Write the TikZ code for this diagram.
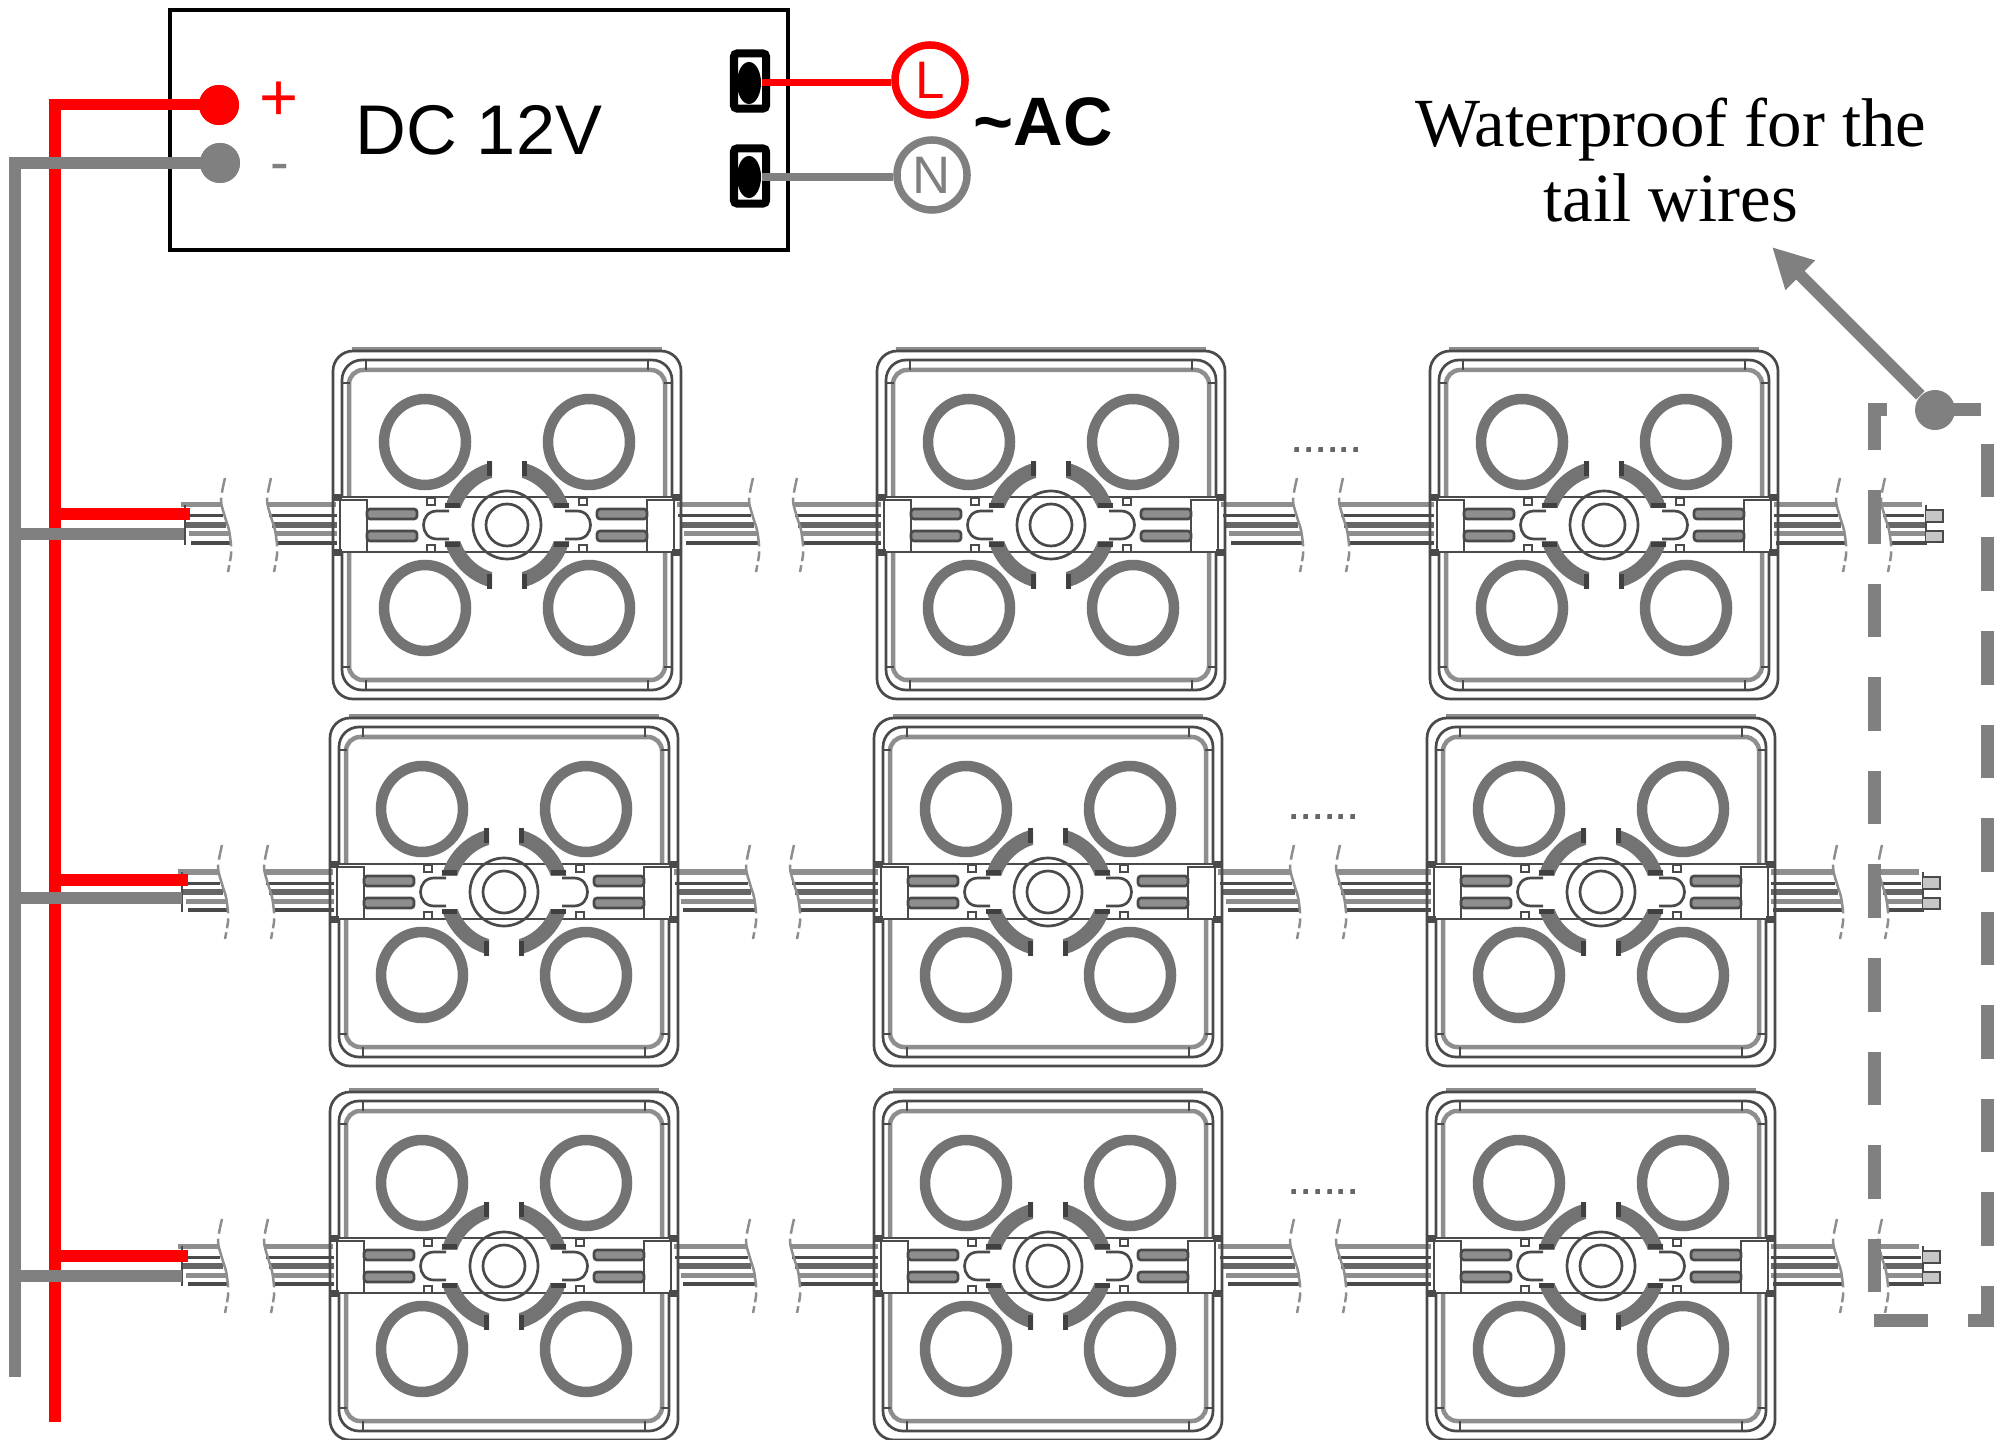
\documentclass[tikz,border=0pt]{standalone}
\usepackage{fontspec}
\setmainfont{Liberation Serif}
\newfontfamily\arialfont{Liberation Sans}
\usetikzlibrary{arrows.meta, shapes.geometric, positioning, calc}

\definecolor{wiregray}{HTML}{808080}
\definecolor{leddark}{HTML}{4A4A4A}
\definecolor{ledmid}{HTML}{666666}
\definecolor{ledlight}{HTML}{8E8E8E}
\definecolor{wirered}{HTML}{FF0000}

\tikzset{
  ledline/.style={leddark, line width=.027cm},
  ledthick/.style={ledlight, line width=.045cm},
  ringline/.style={wiregray!90!black, line width=.105cm},
  redwire/.style={wirered, line width=.11cm},
  graywire/.style={wiregray, line width=.12cm},
  breakline/.style={ledlight, line width=.025cm, dash pattern=on .15cm off .05cm on .5cm off .05cm on .1cm off .04cm on .1cm},
  terminal/.style={draw=black, fill=white, line width=.08cm, rounded corners=.03cm, minimum width=.32cm, minimum height=.55cm, inner sep=0pt},
  pinoval/.style={ellipse, fill=black, minimum width=.24cm, minimum height=.42cm, inner sep=0pt},
  acring/.style={circle, line width=.075cm, fill=white, minimum size=.7cm, inner sep=0pt, font=\arialfont\fontsize{15}{15}\selectfont},
  dcdot/.style={circle, minimum size=.4cm, inner sep=0pt},
  gapdots/.style={anchor=base, inner sep=0pt, ledmid, font=\arialfont\fontsize{12}{12}\selectfont}
}

% Five strands of a cable, ends following the break mark
\newcommand{\wirerun}[2]{
  \foreach \dy/\dx/\wd/\wc in {-20/-4/.05/ledlight, -9/-2/.03/leddark, 0/1/.06/ledmid, 9/4/.05/ledlight, 18/6/.035/leddark}
    \draw[line width=\wd cm, \wc] (#1+\dx,\dy) -- (#2+\dx,\dy);
}
\newcommand{\breakmark}[1]{
  \draw[breakline, shift={(#1,0)}] plot[smooth] coordinates {(0,-47) (-4,-25) (0,-8) (4,5) (6,20) (6,30) (3,47)};
}

% One LED module around its centre
\newcommand{\ledmodule}[1]{
\begin{scope}[shift={(#1,0)}]
    % Frame
    \draw[ledthick] (-155,-176) -- (155,-176);
    \draw[ledline, rounded corners=.2cm] (-174,-174) rectangle (174,174);
    \draw[ledline, rounded corners=.2cm] (-165,-165) rectangle (165,165);
    \draw[ledthick, rounded corners=.14cm] (-158,-155) rectangle (158,155);
    \foreach \sx in {-1,1} \foreach \sy in {-1,1} {
      \draw[ledline] (\sx*141,\sy*165) -- (\sx*141,\sy*155);
      \draw[ledline] (\sx*165,\sy*142) -- (\sx*157,\sy*142);
    }
    % Band with the two connectors
    \fill[white] (-170,-28) rectangle (170,27);
    \draw[ledline] (-170,-28) -- (170,-28);
    \draw[ledline] (-170,27) -- (170,27);
    \draw[ledline, fill=white] (-167,-25) rectangle (-140,27);
    \draw[ledline, fill=white] (140,-25) rectangle (167,27);
    \foreach \sx in {-1,1} {
      \fill[leddark] (\sx*165,-31) rectangle (\sx*174,-24);
      \fill[leddark] (\sx*165,24) rectangle (\sx*174,31);
      % Slots and lobes
      \draw[ledline, fill=ledlight, rounded corners=.03cm] (\sx*140,-16) rectangle (\sx*90,-6);
      \draw[ledline, fill=ledlight, rounded corners=.03cm] (\sx*140,6) rectangle (\sx*90,16);
      \draw[ledline] (\sx*58,-14) -- (\sx*70,-14) .. controls (\sx*88,-14) and (\sx*88,14) .. (\sx*70,14) -- (\sx*58,14);
    }
    \foreach \sx in {-1,1} \foreach \sy in {-1,1} {
      % Lens rings
      \draw[ringline] (\sx*82,\sy*83) ellipse [x radius=41, y radius=43];
      \draw[ledline] (\sx*80,\sy*27) rectangle (\sx*72,\sy*20);
      % Curved pads
      \begin{scope}[xscale=\sx, yscale=\sy]
        \begin{scope}
          \clip (15,17) rectangle (70,70);
          \draw[wiregray!90!black, line width=.15cm] (0:57) arc [start angle=0, end angle=90, radius=57];
        \end{scope}
        \fill[black!75] (15,49) rectangle (20,64);
        \fill[black!75] (47,17) rectangle (62,22);
      \end{scope}
    }
    % Centre circles
    \draw[ledline] (0,0) circle (34);
    \draw[ledline] (0,0) circle (21);
\end{scope}
}

\begin{document}
\begin{tikzpicture}[x=.01cm, y=-.01cm]
    \useasboundingbox (0,0) rectangle (2009,1440);
    \clip (0,0) rectangle (2009,1440);

    % Power supply box
    \draw[black, line width=.045cm] (170,10) rectangle (788,250);
    \node[font=\arialfont\fontsize{20}{20}\selectfont] (dclabel) at (479,130) {DC 12V};
    \node[wirered, inner sep=0pt, font=\arialfont\fontsize{19}{19}\selectfont] (pluslabel) at (279,101) {+};
    \node[wiregray, inner sep=0pt, font=\arialfont\fontsize{16}{16}\selectfont] (minuslabel) at (280,173) {-};
    \node[dcdot, fill=wirered] (dcplus) at (219,105) {};
    \node[dcdot, fill=wiregray] (dcminus) at (220,163) {};

    % AC side
    \node[terminal] (termL) at (750,81) {};
    \node[terminal] (termN) at (750,176) {};
    \node[pinoval] (pinL) at (749,83) {};
    \node[pinoval] (pinN) at (749,177) {};
    \node[acring, draw=wirered, text=wirered] (lineL) at (930,80) {L};
    \node[acring, draw=wiregray, text=wiregray] (lineN) at (932,175) {N};
    \draw[wirered, line width=.07cm] (pinL.east) -- (pinL.east -| lineL.west);
    \draw[wiregray, line width=.08cm] (pinN.east) -- (pinN.east -| lineN.west);
    \node[font=\arialfont\bfseries\fontsize{19.5}{20}\selectfont] (aclabel) at (1043,122) {\textasciitilde AC};

    % Rows of modules
    \foreach \rowx/\rowy in {0/525, -3/892, -3/1266} {
      \begin{scope}[shift={(\rowx,\rowy)}]
        \wirerun{185}{225}
        \wirerun{271}{340}
        \wirerun{680}{753}
        \wirerun{797}{885}
        \wirerun{1225}{1297}
        \wirerun{1343}{1440}
        \wirerun{1770}{1840}
        \wirerun{1885}{1926}
        \ledmodule{507}
        \ledmodule{1051}
        \ledmodule{1604}
        \foreach \bx in {225,271,753,797,1297,1343,1840,1885}
          \breakmark{\bx}
        \node[gapdots] (gap\rowy) at (1327,-72) {......};
        % Cable ends
        \fill[white] (1927,-26) rectangle (1940,26);
        \draw[ledline] (185,-20) -- (185,20);
        \draw[ledline] (1926,-20) -- (1926,20);
        \draw[ledline, fill=ledlight!50] (1926,-15) -- (1943,-15) -- (1943,-3) -- (1926,-3);
        \draw[ledline, fill=ledlight!50] (1926,6) -- (1943,6) -- (1943,17) -- (1926,17);
      \end{scope}
    }

    % Supply lines
    \coordinate (redend) at (55,1422);
    \coordinate (grayend) at (15,1377);
    \draw[redwire] (dcplus.center) -| (redend);
    \foreach \rowy/\tipx [count=\rown] in {514/190, 880/188, 1256/188} {
      \coordinate (redtap\rown) at (55,\rowy);
      \coordinate (redtip\rown) at (\tipx,\rowy);
      \draw[redwire, line width=.12cm] (redtap\rown) -- (redtip\rown);
    }
    \draw[graywire] (dcminus.center) -| (grayend);
    \foreach \rowy/\tipx [count=\rown] in {534/184, 898/182, 1276/182} {
      \coordinate (graytap\rown) at (15,\rowy);
      \coordinate (graytip\rown) at (\tipx,\rowy);
      \draw[graywire] (graytap\rown) -- (graytip\rown);
    }
    \node[dcdot, fill=wirered] at (dcplus) {};
    \node[dcdot, fill=wiregray] at (dcminus) {};

    % Waterproof area
    \draw[wiregray, line width=.13cm, dash pattern=on .535cm off .4cm] (1874,1320) -- (1987,1320) -- (1987,410) -- (1874,410) -- (1874,1320);
    \node[circle, fill=wiregray, minimum size=.4cm, inner sep=0pt] (tailmark) at (1935,410) {};
    \coordinate (tailtip) at (1772,247);
    \draw[wiregray, line width=.12cm, -{Stealth[length=.4cm, width=.39cm, inset=0pt]}] (tailmark) -- (tailtip);
    \node[align=center, font=\fontsize{19.6}{21.2}\selectfont] (taillabel) at (1671,160) {Waterproof for the\\tail wires};
\end{tikzpicture}
\end{document}
